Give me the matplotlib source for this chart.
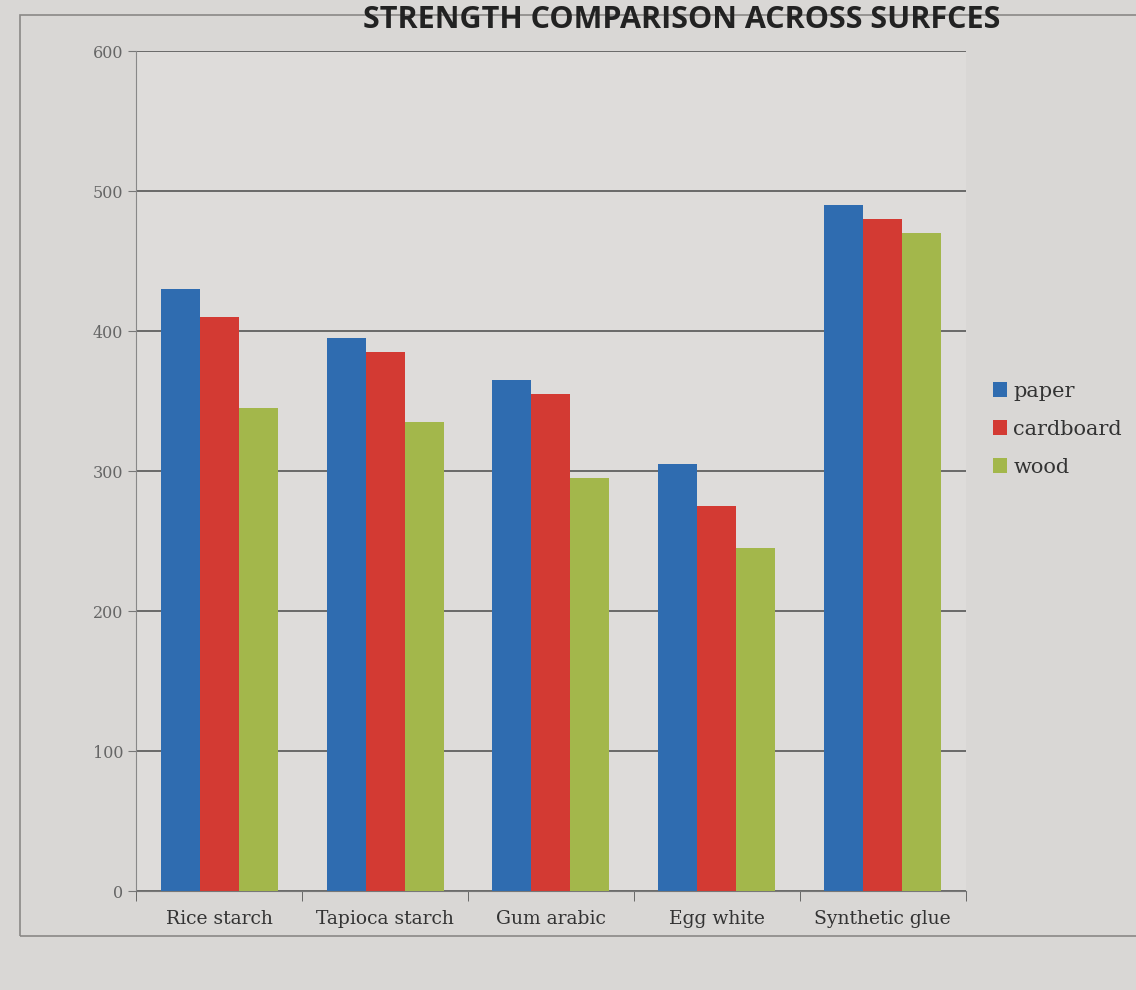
import matplotlib
matplotlib.use("Agg")
import matplotlib.pyplot as plt
import numpy as np
from matplotlib.patches import Rectangle

categories = ["Rice starch", "Tapioca starch", "Gum arabic", "Egg white", "Synthetic glue"]
series_names = ["paper", "cardboard", "wood"]
paper = [430, 395, 365, 305, 490]
cardboard = [410, 385, 355, 275, 480]
wood = [345, 335, 295, 245, 470]
colors = ["#2f6cb0", "#d33a33", "#a3b74b"]
title = "STRENGTH COMPARISON ACROSS SURFCES"

fig = plt.figure(figsize=(11.36, 9.9), dpi=100, facecolor="#d9d7d5")
ax = fig.add_axes([0.12, 0.1, 0.73, 0.848])
ax.set_facecolor("#dedcda")

# chart border
fig.patches.append(Rectangle((0.018, 0.055), 0.99, 0.93, transform=fig.transFigure,
                             fill=False, edgecolor="#8a8886", linewidth=1.2))

x = np.arange(len(categories))
w = 0.235
for i, (vals, name) in enumerate(zip([paper, cardboard, wood], series_names)):
    ax.bar(x + (i - 1) * w, vals, width=w, color=colors[i], label=name, zorder=3)

ax.set_ylim(0, 600)
ax.set_xlim(-0.5, len(categories) - 0.5)
ax.set_yticks(np.arange(0, 601, 100))
ax.yaxis.grid(True, color="#4a4a4a", linewidth=1.1, zorder=0)
ax.set_axisbelow(True)
ax.set_xticks(x)
ax.set_xticklabels(categories, family="DejaVu Serif", fontsize=13.5, color="#333333")
ax.tick_params(axis="x", length=0, pad=14)
ax.set_xticks(np.arange(-0.5, len(categories)), minor=True)
ax.tick_params(axis="x", which="minor", length=7, color="#555555")
ax.tick_params(axis="y", length=6, color="#777777", labelsize=11.5, labelcolor="#666666")
for lab in ax.get_yticklabels():
    lab.set_family("DejaVu Serif")
for s in ["top", "right"]:
    ax.spines[s].set_visible(False)
ax.spines["left"].set_color("#888888")
ax.spines["bottom"].set_color("#777777")

leg = ax.legend(loc="center left", bbox_to_anchor=(1.01, 0.55), frameon=False,
                handlelength=0.7, handleheight=0.7, handletextpad=0.3,
                labelspacing=0.9, prop={"family": "DejaVu Serif", "size": 15})
for t in leg.get_texts():
    t.set_color("#333333")

fig.suptitle(title, x=0.6, y=0.995, fontsize=22, fontweight="bold",
             family="Open Sans", color="#222222", va="top")

fig.savefig("out.png", dpi=100, facecolor=fig.get_facecolor())
